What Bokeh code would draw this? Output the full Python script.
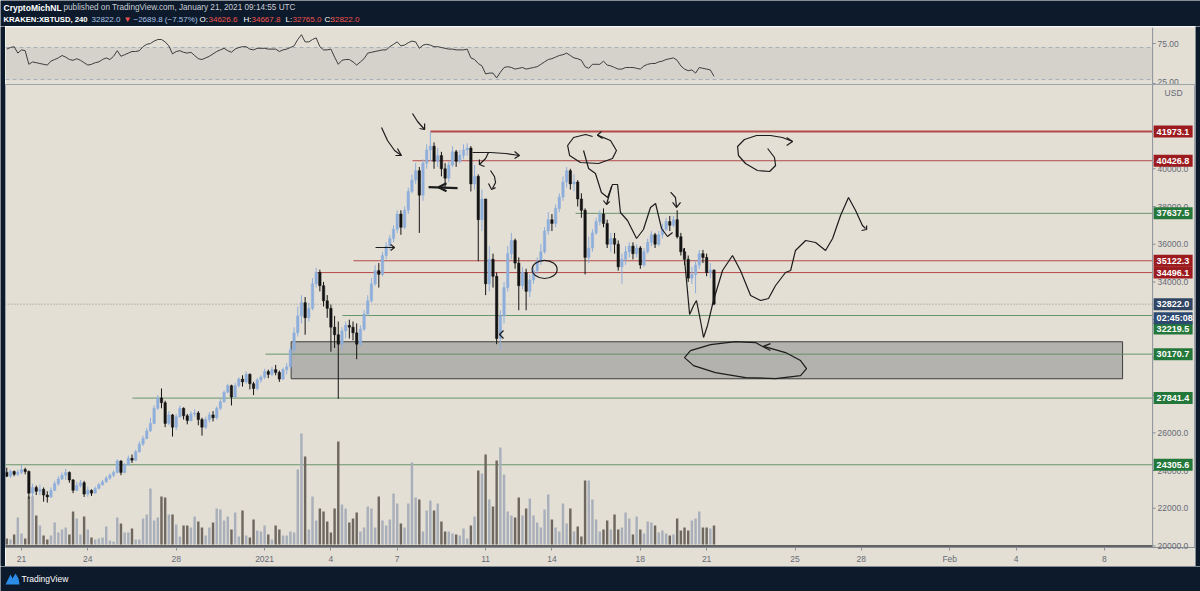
import pandas as pd
from bokeh.plotting import figure
from bokeh.models import Range1d, FixedTicker, NumeralTickFormatter, Span, ColumnDataSource
from bokeh.layouts import column, row
from bokeh.embed import file_html
from bokeh.resources import INLINE
from bokeh.core.properties import value

# ---------------- data (KRAKEN:XBTUSD, 4h candles from 2020-12-20 08:00 UTC) ----------------
first_open = 23900.0
close = [23700,23950,23800,23900,24050,23950,22800,23100,22900,23000,
         22700,22600,22950,23300,23550,23750,23900,23500,22950,23200,
         23350,22750,22950,22800,23050,23250,23400,23600,23750,23900,
         24500,23900,24300,24650,24550,25000,25400,25700,26100,26500,
         27300,27850,27600,26500,26950,26300,26850,27300,26900,26650,
         27000,27050,26700,26300,26700,26950,26800,27300,27650,28150,
         28500,27900,28500,28850,28700,29100,28600,28350,28800,28950,
         29250,29100,29350,29200,28850,29350,29500,30400,31300,32200,
         32900,32100,32600,33900,34500,33800,33000,32600,31600,31200,
         30700,31400,31700,31600,31300,30700,31500,32300,33000,33900,
         34600,34400,35400,35900,36300,36800,37600,36900,37800,38800,
         39400,39900,38600,40300,41000,41200,40400,40700,40000,39500,
         40200,40900,40400,40700,41000,41100,39200,39600,37300,38400,
         33900,35200,34300,31000,32200,33700,35500,36200,35000,33800,
         34500,33500,34100,34600,35100,35600,36700,37300,37100,37900,
         38500,39300,39900,39200,39300,38400,37800,35300,35800,36600,
         37200,37600,37100,36000,36300,36000,34800,35200,35600,35900,
         35500,35800,34900,35600,36100,36500,36000,36500,36800,37200,
         37000,37300,36400,35600,35200,34200,34400,34900,35500,35300,
         34500,34626.6,32822.0]
high = [24150,24050,24000,24050,24300,24150,24000,23300,23200,23250,
        23100,22900,23100,23450,23700,23900,24100,23950,23550,23400,
        23500,23450,23150,23000,23150,23350,23500,23700,23850,24000,
        24600,24550,24400,24800,24850,25100,25550,25850,26250,26800,
        27450,28000,28350,27700,27150,27000,27000,27450,27350,27000,
        27150,27250,27150,26800,26850,27100,27150,27400,27800,28250,
        28600,28550,28650,28950,29050,29250,29150,28700,28900,29050,
        29400,29350,29500,29600,29300,29450,29700,30600,31600,32700,
        33300,33200,32900,34200,34750,34650,34000,33300,32800,32200,
        31900,31600,31900,32000,31900,31800,31700,32500,33300,34200,
        34900,35000,35600,36100,36500,37000,37800,37800,38000,39000,
        39700,40300,40100,40500,41300,41973.1,41400,41100,40900,40300,
        40400,41200,41000,41000,41300,41350,41200,40200,39700,38900,
        38300,35900,35500,34500,32500,34000,35900,36600,36300,35300,
        34800,34700,34400,34800,35300,36000,36900,37700,37600,38100,
        38700,39600,40100,40000,39700,39400,38700,37900,36400,36800,
        37400,37800,37900,37300,36600,36600,36200,35500,35900,36100,
        36100,36000,35900,35800,36300,36700,36600,36700,37100,37400,
        37500,37500,37800,36600,35800,35400,34800,35100,35700,35700,
        35500,35000,34667.8]
low = [23650,23600,23700,23700,23800,23800,22500,22600,22700,22700,
       22350,22300,22550,22900,23200,23500,23500,23350,22800,22900,
       23100,22600,22600,22650,22800,23000,23200,23350,23500,23650,
       23850,23750,23850,24250,24400,24500,24950,25300,25650,26050,
       26450,27200,27300,26300,26400,25800,26150,26800,26700,26450,
       26600,26850,26400,25850,26200,26550,26600,26700,27200,27600,
       28100,27450,27850,28400,28450,28600,28300,28000,28250,28650,
       28850,28900,29000,29050,28700,28800,29100,29400,30250,31100,
       31800,31200,31900,32500,33700,33500,32700,32100,30300,30500,
       27800,30400,31000,31000,30900,29900,30600,31400,32200,32900,
       33800,33700,34300,35200,35700,36100,36600,36500,36800,37600,
       38700,39200,36600,38300,40000,40400,40000,40100,39600,39000,
       39300,40100,40100,40300,40500,40700,38800,38900,35100,36700,
       33300,33500,33700,30700,30400,31800,33500,35200,34700,32500,
       33600,32500,33200,33900,34400,34900,35500,36500,36700,36900,
       37700,38300,39000,38900,38800,38000,37400,34400,35000,35600,
       36500,37000,36900,35800,35600,35500,34600,33900,34900,35300,
       35200,35300,34700,34800,35500,35900,35800,35900,36300,36700,
       36700,36900,36300,35400,34900,34000,33900,33400,34700,35000,
       34300,34200,32765.0]
volume = [300,250,500,1350,550,300,2400,2400,1450,950,
          450,250,450,1100,600,750,850,500,1650,1300,
          500,1400,750,350,250,300,350,900,200,150,
          1350,1050,600,600,800,250,250,1300,1500,2800,
          1200,1350,2400,2350,1500,1500,1000,400,950,950,
          850,1400,1150,850,450,850,1100,1800,1750,1200,
          1400,750,1600,400,1700,450,350,1250,700,650,
          950,500,250,950,750,450,450,650,600,3750,
          5550,4400,750,2400,1200,1800,1650,1150,600,1800,
          5150,2000,1800,1100,1300,1600,650,850,1900,1800,
          850,2400,1200,950,1250,2550,2050,1050,850,2050,
          4100,2350,2250,650,1700,2200,1700,2050,1150,650,
          650,550,500,450,800,300,950,1400,3700,3550,
          4500,2250,1900,4200,4850,3500,1650,1450,1350,2350,
          1450,1800,2300,1450,1100,850,1750,2500,1250,850,
          650,2050,1050,1800,650,900,400,3200,3200,2250,
          1250,650,750,1200,750,1500,750,850,1600,1300,
          500,1400,750,550,1150,1100,950,600,700,550,
          450,500,1300,700,850,700,1200,1300,1650,850,
          850,800,950]
rsi = [68,70,71,63,67,66,49,52,51,50,
       49,48,53,55,57,60,58,55,54,56,
       54,51,48,49,51,52,55,57,55,59,
       66,59,61,63,65,65,66,71,74,75,
       78,80,80,77,72,62,65,66,64,63,
       64,60,56,55,57,59,62,65,67,69,
       66,64,68,70,71,71,68,67,69,69,
       69,68,68,68,65,67,68,70,72,80,
       86,77,77,80,82,71,67,67,68,58,
       49,54,55,55,52,48,52,56,63,64,
       65,66,67,67,71,74,77,72,73,76,
       78,77,69,73,74,73,71,71,70,69,
       68,68,67,67,67,68,57,55,50,47,
       37,38,38,32,39,45,46,45,43,44,
       45,43,44,45,46,49,52,55,56,58,
       60,61,63,60,57,56,54,46,44,49,
       49,49,53,48,47,45,43,43,45,45,
       45,44,43,47,49,50,50,52,53,55,
       56,57,54,47,43,41,42,38,45,44,
       43,42,34]

# horizontal levels (price, kind, first day drawn; days counted from 2020-12-21 00:00 UTC)
level_price = [41973.1, 40426.8, 37637.5, 35122.3, 34496.1, 32219.5, 30170.7, 27841.4, 24305.6]
level_kind = ["res", "res", "sup", "res", "res", "sup", "sup", "sup", "sup"]
level_start_day = [18.5, 17.69, 25.07, 15.02, 13.3, 14.52, 11.04, 5.02, None]
last_price = 32822.0
countdown = "02:45:08"
zone_day = [12.2, 49.82]
zone_price = [28865, 30827]

price_ticks = [20000, 22000, 24000, 26000, 28000, 30000, 32000, 34000, 36000, 38000, 40000]
rsi_ticks = [25, 75]
rsi_bands = [30, 70]
date_tick_days = [0, 3, 7, 11, 14, 17, 21, 24, 28, 31, 35, 38, 42, 45, 49]
date_tick_labels = ["21", "24", "28", "2021", "4", "7", "11", "14", "18", "21", "25", "28", "Feb", "4", "8"]

# hand drawings (day, price)
wave_day = [25.43, 25.66, 25.97, 26.24, 26.52, 26.74, 26.97, 27.10, 27.42, 27.83, 28.14, 28.46, 28.69, 28.96, 29.23, 29.46]
wave_price = [40970, 40016, 39751, 38743, 38478, 39167, 39167, 37683, 37258, 36304, 36781, 37948, 38160, 36834, 36410, 36622]
proj_day = [29.95, 30.09, 30.23, 30.41, 30.54, 30.72, 30.86, 31.04, 31.31, 31.72, 32.17, 32.53, 32.99, 33.44, 33.80, 34.12, 34.57, 34.80, 35.02, 35.48, 35.93, 36.38, 36.70, 37.06, 37.42, 37.74, 38.05, 38.19]
proj_price = [35773, 34077, 32274, 32751, 33016, 31956, 31054, 31691, 33016, 34607, 35402, 34607, 33281, 33016, 33122, 33811, 34501, 34607, 35667, 36197, 36091, 35667, 36304, 37524, 38478, 37789, 36993, 36834]
proj_tip_day = [38.01, 38.24, 38.24]
proj_tip_price = [36728, 36781, 36993]
loop_r_day = [33.76, 34.07, 34.12, 33.85, 33.30, 32.76, 32.44, 32.40, 32.71, 33.26, 33.89, 34.43, 34.89]
loop_r_price = [41076, 40599, 40175, 39857, 39910, 40281, 40705, 41183, 41554, 41766, 41766, 41660, 41448]
loop_r_tip_day = [34.62, 34.89, 34.62]
loop_r_tip_price = [41660, 41448, 41236]
loop_top_day = [26.06, 26.65, 26.92, 26.74, 26.11, 25.29, 24.80, 24.71, 24.98, 25.52, 25.84]
loop_top_price = [41785, 41500, 40970, 40546, 40281, 40334, 40705, 41236, 41660, 41819, 41713]
loop_top_tip_day = [26.24, 26.06, 26.29]
loop_top_tip_price = [41978, 41785, 41607]
zone_loop_day = [33.62, 34.57, 35.25, 35.52, 35.25, 34.12, 32.76, 31.40, 30.41, 30.00, 30.27, 31.18, 32.31, 33.21, 33.53]
zone_loop_price = [30573, 30255, 29830, 29406, 29035, 28876, 28929, 29194, 29565, 29989, 30361, 30679, 30838, 30785, 30573]
zone_loop_tip_day = [33.89, 33.53, 33.89]
zone_loop_tip_price = [30732, 30573, 30361]
arrow_g_day = [16.29, 16.56, 16.88, 17.19]
arrow_g_price = [42190, 41501, 40970, 40705]
arrow_g_tip_day = [17.01, 17.19, 16.92]
arrow_g_tip_price = [41076, 40705, 40705]
arrow_h_day = [17.69, 17.92, 18.24]
arrow_h_price = [42933, 42508, 42084]
arrow_h_tip_day = [18.01, 18.24, 18.24]
arrow_h_tip_price = [42137, 42084, 42402]
arrow_i_day = [20.41, 21.22, 21.90, 22.53]
arrow_i_price = [40864, 40864, 40811, 40705]
arrow_i_tip_day = [22.31, 22.53, 22.31]
arrow_i_tip_price = [40917, 40705, 40546]
arrow_j_day = [21.13, 21.00, 20.72]
arrow_j_price = [40864, 40546, 40228]
arrow_j_tip_day = [20.72, 20.72, 20.95]
arrow_j_tip_price = [40493, 40228, 40122]
arrow_k_day = [21.22, 21.40, 21.45, 21.31]
arrow_k_price = [39910, 39592, 39273, 38955]
arrow_k_tip_day = [21.13, 21.27, 21.45]
arrow_k_tip_price = [39220, 38902, 39000]
arrow_l_day = [18.42, 19.73]
arrow_l_price = [39024, 38971]
arrow_l_tip_day = [19.23, 18.87, 19.23]
arrow_l_tip_price = [39236, 39024, 38812]
arrow_m_day = [16.02, 16.88]
arrow_m_price = [35827, 35827]
arrow_m_tip_day = [16.70, 16.88, 16.70]
arrow_m_tip_price = [35986, 35827, 35668]
arrow_n_tip_day = [21.81, 21.63, 21.81]
arrow_n_tip_price = [31425, 31213, 31001]
arrow_o_day = [29.37, 29.59, 29.64]
arrow_o_price = [38759, 38478, 37948]
arrow_o_tip_day = [29.46, 29.64, 29.82]
arrow_o_tip_price = [38213, 37948, 38213]
arrow_p_day = [26.70, 26.47]
arrow_p_price = [39061, 38107]
arrow_p_tip_day = [26.33, 26.47, 26.61]
arrow_p_tip_price = [38319, 38107, 38266]
circle_day = [23.67]
circle_price = [34661]
circle_w_days = [1.13]
circle_h_price = [955]

# ---------------- styling / geometry ----------------
DARK = "#0d1a2b"
BG = "#e4dfd5"
BAND = "#d5d2cc"
UP = "#8eaedb"
DOWN = "#141414"
VOL_UP = "#a8afba"
VOL_DOWN = "#6e6860"
RED_LINE = "#ad3a3a"
RED_TAG = "#9b1b1f"
GREEN_LINE = "#5b8c5f"
GREEN_TAG = "#24773a"
PRICE_TAG = "#2f4562"
TIMER_TAG = "#2c4a70"
AXIS_TEXT = "#666a75"
AXIS_LINE = "#8a9099"
DRAW = "#1c1c1c"
FONT = "Liberation Sans"

PANE_W = 1190                      # plotting panes span page x 5..1195
X_START, X_END = -0.724, 53.12     # visible days (page x 5 .. 1195)
X_AXIS = 51.18                     # price-scale border (page x 1152)
PX_PER_DAY = PANE_W / (X_END - X_START)
Y_MAIN = (19918, 44470)
PX_PER_PRICE = 463 / (Y_MAIN[1] - Y_MAIN[0])

times = pd.date_range("2020-12-20 08:00", periods=len(close), freq="4h")
day = ((times - pd.Timestamp("2020-12-21")) / pd.Timedelta(days=1)).tolist()
opens = [first_open] + close[:-1]
is_up = [c >= o for o, c in zip(opens, close)]
src = ColumnDataSource(dict(
    day=day, open=opens, close=close,
    high=[max(h, o, c) for h, o, c in zip(high, opens, close)],
    low=[min(l, o, c) for l, o, c in zip(low, opens, close)],
    top=[max(o, c) for o, c in zip(opens, close)],
    bottom=[min(o, c) for o, c in zip(opens, close)],
    color=[UP if u else DOWN for u in is_up],
    vol=volume,
    vcolor=[VOL_UP if u else VOL_DOWN for u in is_up],
    rsi=rsi,
))

xr = Range1d(X_START, X_END)


def plain(p, fill):
    p.background_fill_color = fill
    p.border_fill_color = fill
    p.outline_line_color = None
    p.xgrid.visible = False
    p.ygrid.visible = False
    return p


def style_price_axis(ax, ticks, fmt):
    ax.ticker = FixedTicker(ticks=ticks)
    ax.formatter = NumeralTickFormatter(format=fmt)
    ax.major_label_text_font = FONT
    ax.major_label_text_font_size = "8.5px"
    ax.major_label_text_color = AXIS_TEXT
    ax.major_tick_out = 0
    ax.major_tick_in = 0
    ax.minor_tick_out = 0
    ax.minor_tick_in = 0
    ax.major_tick_line_color = None
    ax.axis_line_color = None
    ax.major_label_standoff = -38   # labels sit inside the price-scale column


def strip(h):
    f = plain(figure(width=5, height=h, x_range=Range1d(0, 1), y_range=Range1d(0, 1),
                     toolbar_location=None, output_backend="svg", title=None,
                     x_axis_location=None, y_axis_location=None, min_border=0), DARK)
    return f


# ---------------- header ----------------
hdr = plain(figure(width=1200, height=26, x_range=Range1d(0, 1200), y_range=Range1d(26, 0),
                   toolbar_location=None, output_backend="svg", title=None,
                   x_axis_location=None, y_axis_location=None, min_border=0), DARK)
hdr.text(x=[3], y=[7], text=["CryptoMichNL"], text_color="#ffffff", text_font_style="bold",
         text_font=value(FONT), text_font_size="8.5px", text_baseline="middle", text_align="left")
hdr.text(x=[63], y=[7], text=["published on TradingView.com, January 21, 2021 09:14:55 UTC"],
         text_color="#c9ccd4", text_font=value(FONT), text_font_size="8.2px",
         text_baseline="middle", text_align="left")
hdr.text(x=[3], y=[19.3], text=["KRAKEN:XBTUSD, 240"], text_color="#ffffff", text_font_style="bold",
         text_font=value(FONT), text_font_size="7.7px", text_baseline="middle", text_align="left")
hdr.text(x=[91, 123, 133, 199, 208, 243, 251, 285, 292, 324, 330], y=[19.3] * 11,
         text=["32822.0", "▼", "−2689.8 (−7.57%)", "O:", "34626.6",
               "H:", "34667.8", "L:", "32765.0", "C:", "32822.0"],
         text_color=["#a9c2e8", "#ef5350", "#a9c2e8", "#ffffff", "#ef5350",
                     "#ffffff", "#ef5350", "#ffffff", "#ef5350", "#ffffff", "#ef5350"],
         text_font=value(FONT), text_font_size="8px", text_baseline="middle", text_align="left")

# ---------------- RSI pane ----------------
rp = plain(figure(width=PANE_W, height=58, x_range=xr, y_range=Range1d(23.75, 95),
                  toolbar_location=None, output_backend="svg", title=None,
                  x_axis_location=None, y_axis_location="right",
                  min_border_left=0, min_border_right=0, min_border_top=1, min_border_bottom=0), BG)
rp.quad(left=[X_START], right=[X_AXIS], bottom=[rsi_bands[0]], top=[rsi_bands[1]],
        fill_color=BAND, line_color=None)
rp.segment(x0=[X_START] * 2, x1=[X_AXIS] * 2, y0=rsi_bands, y1=rsi_bands,
           line_color="#a7b1bb", line_dash="4 3", line_width=1)
rp.line("day", "rsi", source=src, line_color="#3d3d3d", line_width=1)
rp.add_layout(Span(location=X_AXIS, dimension="height", line_color=AXIS_LINE, line_width=1))
rp.segment(x0=[X_AXIS] * 2, x1=[X_AXIS + 3 / PX_PER_DAY] * 2, y0=rsi_ticks, y1=rsi_ticks,
           line_color=AXIS_LINE, line_width=1)
style_price_axis(rp.yaxis[0], rsi_ticks, "0.00")

# ---------------- main pane ----------------
mp = plain(figure(width=PANE_W, height=482, x_range=xr, y_range=Range1d(*Y_MAIN),
                  toolbar_location=None, output_backend="svg", title=None,
                  y_axis_location="right",
                  min_border_left=0, min_border_right=0, min_border_top=0, min_border_bottom=19), BG)
mp.outline_line_color = "#9ea4ab"
mp.extra_y_ranges = {"vol": Range1d(-150, 23000)}
style_price_axis(mp.yaxis[0], price_ticks, "0.0")

xa = mp.xaxis[0]
xa.ticker = FixedTicker(ticks=date_tick_days)
xa.major_label_overrides = dict(zip(date_tick_days, date_tick_labels))
xa.major_label_text_font = FONT
xa.major_label_text_font_size = "8.5px"
xa.major_label_text_color = AXIS_TEXT
xa.major_tick_out = 3
xa.major_tick_in = 0
xa.minor_tick_out = 0
xa.minor_tick_in = 0
xa.major_label_standoff = 3
xa.axis_line_color = AXIS_LINE
xa.major_tick_line_color = AXIS_LINE

# zone box
mp.quad(left=[zone_day[0]], right=[zone_day[1]], bottom=[zone_price[0]], top=[zone_price[1]],
        fill_color="#b4b2ae", line_color="#3d3d3d", line_width=1)

# level lines
starts = [X_START if s is None else s for s in level_start_day]
mp.segment(x0=starts, y0=level_price, x1=[X_AXIS] * len(level_price), y1=level_price,
           line_color=[RED_LINE if k == "res" else GREEN_LINE for k in level_kind],
           line_width=[2 if i == 0 else 1 for i in range(len(level_price))], line_alpha=0.9)
mp.segment(x0=[X_START], y0=[last_price], x1=[X_AXIS], y1=[last_price],
           line_color="#8c8c8c", line_dash="1 2", line_width=1)
mp.segment(x0=[X_START], y0=[price_ticks[0]], x1=[X_AXIS], y1=[price_ticks[0]],
           line_color="#3a3a3a", line_width=1.5)

# volume
mp.vbar(x="day", width=0.11, top="vol", bottom=0, source=src, y_range_name="vol",
        fill_color="vcolor", line_color=None)

# candles
mp.segment(x0="day", y0="low", x1="day", y1="high", source=src, line_color="color", line_width=1)
mp.vbar(x="day", width=0.11, top="top", bottom="bottom", source=src,
        fill_color="color", line_color="color", line_width=0.5)

# drawings
paths_x = [wave_day, proj_day, proj_tip_day, loop_r_day, loop_r_tip_day, loop_top_day, loop_top_tip_day,
           zone_loop_day, zone_loop_tip_day, arrow_g_day, arrow_g_tip_day, arrow_h_day, arrow_h_tip_day,
           arrow_i_day, arrow_i_tip_day, arrow_j_day, arrow_j_tip_day, arrow_k_day, arrow_k_tip_day,
           arrow_m_day, arrow_m_tip_day, arrow_n_tip_day, arrow_o_day, arrow_o_tip_day,
           arrow_p_day, arrow_p_tip_day]
paths_y = [wave_price, proj_price, proj_tip_price, loop_r_price, loop_r_tip_price, loop_top_price,
           loop_top_tip_price, zone_loop_price, zone_loop_tip_price, arrow_g_price, arrow_g_tip_price,
           arrow_h_price, arrow_h_tip_price, arrow_i_price, arrow_i_tip_price, arrow_j_price,
           arrow_j_tip_price, arrow_k_price, arrow_k_tip_price, arrow_m_price, arrow_m_tip_price,
           arrow_n_tip_price, arrow_o_price, arrow_o_tip_price, arrow_p_price, arrow_p_tip_price]
mp.multi_line(xs=paths_x, ys=paths_y, line_color=DRAW, line_width=1.2)
mp.multi_line(xs=[arrow_l_day, arrow_l_tip_day], ys=[arrow_l_price, arrow_l_tip_price],
              line_color=DRAW, line_width=2.2)
mp.ellipse(x=circle_day, y=circle_price, width=circle_w_days, height=circle_h_price,
           fill_color=None, line_color=DRAW, line_width=1.2)

# price-scale column: border line, tick dashes, tags (tags drawn above the axis labels)
mp.add_layout(Span(location=X_AXIS, dimension="height", line_color=AXIS_LINE, line_width=1))
mp.segment(x0=[X_AXIS] * len(price_ticks), x1=[X_AXIS + 3 / PX_PER_DAY] * len(price_ticks),
           y0=price_ticks, y1=price_ticks, line_color=AXIS_LINE, line_width=1)

tag_text = [f"{p:.1f}" for p in level_price] + [f"{last_price:.1f}", countdown]
tag_fill = [RED_TAG if k == "res" else GREEN_TAG for k in level_kind] + [PRICE_TAG, TIMER_TAG]
tag_shift_px = [13 if p == 32219.5 else 0 for p in level_price] + [0, 14]
tag_y = [p - s / PX_PER_PRICE for p, s in zip(level_price + [last_price, last_price], tag_shift_px)]
tag_x = X_AXIS + (1 + 39 / 2) / PX_PER_DAY
mp.rect(x=[tag_x] * len(tag_y), y=tag_y, width=39, height=12, width_units="screen",
        height_units="screen", fill_color=tag_fill, line_color=None, level="overlay")
mp.text(x=[X_AXIS] * len(tag_y), y=tag_y, x_offset=4, text=tag_text, text_color="#ffffff",
        text_font=value(FONT), text_font_size="9px", text_font_style="bold",
        text_baseline="middle", text_align="left", level="overlay")
mp.text(x=[X_AXIS], y=[Y_MAIN[1] - 8 / PX_PER_PRICE], x_offset=12, text=["USD"], text_color=AXIS_TEXT,
        text_font=value(FONT), text_font_size="8.5px", text_baseline="middle", text_align="left")

# ---------------- footer ----------------
ftr = plain(figure(width=1200, height=25, x_range=Range1d(0, 1200), y_range=Range1d(25, 0),
                   toolbar_location=None, output_backend="svg", title=None,
                   x_axis_location=None, y_axis_location=None, min_border=0), DARK)
ftr.patch(x=[5, 10, 12, 15, 18, 19, 5], y=[18, 8, 12, 7, 12, 18, 18], fill_color="#2b8ce8", line_color=None)
ftr.text(x=[21], y=[12], text=["TradingView"], text_color="#ffffff", text_font=value(FONT),
         text_font_size="8.5px", text_baseline="middle", text_align="left")

middle = row(strip(540), column(rp, mp, spacing=0), strip(540), spacing=0)
layout = column(hdr, middle, ftr, spacing=0)
open("out.html", "w").write(file_html(layout, INLINE))
